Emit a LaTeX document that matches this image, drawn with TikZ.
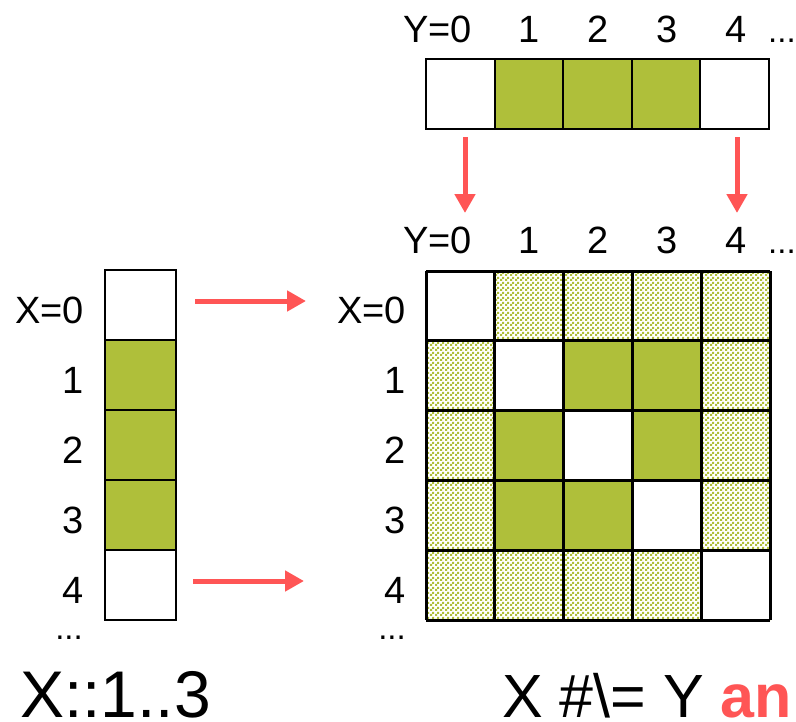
\documentclass[tikz,border=0pt]{standalone}
\usepackage{fontspec}
\setmainfont{Liberation Sans}
\usetikzlibrary{arrows.meta,patterns}
\definecolor{CellGreen}{RGB}{175,191,58}
\definecolor{ArrowRed}{RGB}{255,85,85}
% dithered fill for the excluded pairs
\pgfdeclarepatternformonly{checker}{\pgfpointorigin}{\pgfpoint{5pt}{5pt}}{\pgfpoint{5pt}{5pt}}{%
  \pgfpathrectangle{\pgfpointorigin}{\pgfpoint{2.5pt}{2.5pt}}%
  \pgfpathrectangle{\pgfpoint{2.5pt}{2.5pt}}{\pgfpoint{2.5pt}{2.5pt}}%
  \pgfusepath{fill}}

\begin{document}
\begin{tikzpicture}[x=1pt, y=-1pt, font=\fontsize{38}{40}\selectfont,
  lbl/.style={inner sep=0pt, anchor=base},
  rlbl/.style={inner sep=0pt, anchor=base east},
  dots/.style={inner sep=0pt, font=\fontsize{33}{35}\selectfont},
  redarrow/.style={ArrowRed, line width=5pt, -{Triangle[length=19pt,width=20pt]}}]
  \useasboundingbox (0,0) rectangle (796,721);

  % Domain of X (left column)
  \foreach \r/\f in {0/white,1/CellGreen,2/CellGreen,3/CellGreen,4/white}
    \filldraw[fill=\f, line width=2pt] (105,{270+70*\r}) rectangle ++(71,70);
  \node[rlbl] (xl0) at (84,323) {X=0};
  \foreach \r in {1,...,4}
    \node[rlbl] (xl\r) at (84,{323+70*\r}) {\r};
  \node[dots, anchor=base east] (xldots) at (83,639) {...};

  % Domain of Y (top row)
  \foreach \c/\f in {0/white,1/CellGreen,2/CellGreen,3/CellGreen,4/white}
    \filldraw[fill=\f, line width=2pt] ({426+68.6*\c},59) rectangle ++(68.6,70);
  \node[rlbl] (yt0) at (472,42) {Y=0};
  \foreach \c in {1,...,4}
    \node[lbl] (yt\c) at ({460+69*\c},42) {\c};
  \node[dots, anchor=base west] (ytdots) at (768,42) {...};

  % Pair grid: excluded pairs dithered, diagonal white, rest green
  \fill[pattern=checker, pattern color=CellGreen] (426,271) rectangle (770,620);
  \foreach \i in {0,...,4}
    \fill[white] ({426+68.8*\i},{271+69.8*\i}) rectangle ++(68.8,69.8);
  \foreach \r/\c in {1/2,1/3,2/1,2/3,3/1,3/2}
    \fill[CellGreen] ({426+68.8*\c},{271+69.8*\r}) rectangle ++(68.8,69.8);
  \foreach \i in {0,...,5} {
    \draw[line width=3pt] ({426+68.8*\i},271) -- ({426+68.8*\i},620);
    \draw[line width=3pt] (426,{271+69.8*\i}) -- (770,{271+69.8*\i});
  }
  \node[rlbl] (yg0) at (472,253) {Y=0};
  \foreach \c in {1,...,4}
    \node[lbl] (yg\c) at ({460+69*\c},253) {\c};
  \node[dots, anchor=base west] (ygdots) at (768,253) {...};
  \node[rlbl] (xg0) at (406,323) {X=0};
  \foreach \r in {1,...,4}
    \node[rlbl] (xg\r) at (406,{323+70*\r}) {\r};
  \node[dots, anchor=base east] (xgdots) at (406,639) {...};

  % Arrows
  \coordinate (h0s) at (195,301);  \coordinate (h0e) at (306,301);
  \coordinate (h4s) at (193,581);  \coordinate (h4e) at (304,581);
  \coordinate (v0s) at (465,137);  \coordinate (v0e) at (465,213);
  \coordinate (v4s) at (737,137);  \coordinate (v4e) at (737,213);
  \draw[redarrow] (h0s) -- (h0e);
  \draw[redarrow] (h4s) -- (h4e);
  \draw[redarrow] (v0s) -- (v0e);
  \draw[redarrow] (v4s) -- (v4e);

  % Captions
  \node[inner sep=0pt, anchor=base west, font=\fontsize{66}{70}\selectfont] (dom) at (20,717) {X::1..3};
  \node[inner sep=0pt, anchor=base west, font=\fontsize{61}{64}\selectfont] (neq) at (502,717)
    {X \#\textbackslash= Y {\color{ArrowRed}\bfseries an}};
\end{tikzpicture}
\end{document}
